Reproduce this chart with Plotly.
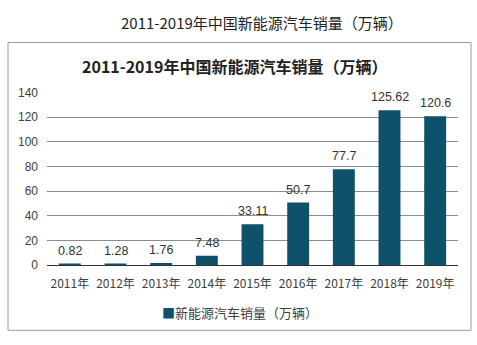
import plotly.graph_objects as go

years = ["2011年", "2012年", "2013年", "2014年", "2015年", "2016年", "2017年", "2018年", "2019年"]
sales = [0.82, 1.28, 1.76, 7.48, 33.11, 50.7, 77.7, 125.62, 120.6]
value_labels = ["0.82", "1.28", "1.76", "7.48", "33.11", "50.7", "77.7", "125.62", "120.6"]
series_name = "新能源汽车销量（万辆）"
outer_title = "2011-2019年中国新能源汽车销量（万辆）"
inner_title = "2011-2019年中国新能源汽车销量（万辆）"

W, H = 477, 345
bar_color = "#0f506a"
font_cjk = "Noto Sans CJK SC, Liberation Sans, sans-serif"
font_num = "Liberation Sans, Arial, sans-serif"

fig = go.Figure()
fig.add_trace(go.Bar(
    x=years, y=sales, name=series_name,
    marker=dict(color=bar_color, line=dict(width=0)),
    showlegend=False,
))

def px_x(p):
    return p / W

def px_y(p):
    return 1 - p / H

annotations = [
    dict(text=outer_title, xref="paper", yref="paper", x=px_x(262), y=px_y(16),
         xanchor="center", yanchor="middle", showarrow=False,
         font=dict(size=15, color="#222222", family=font_cjk)),
    dict(text="<b>" + inner_title + "</b>", xref="paper", yref="paper", x=px_x(234), y=px_y(62),
         xanchor="center", yanchor="middle", showarrow=False,
         font=dict(size=16, color="#222222", family=font_cjk)),
    dict(text="<span style='color:" + bar_color + "'>■</span>" + series_name,
         xref="paper", yref="paper", x=px_x(160), y=px_y(318),
         xanchor="left", yanchor="middle", showarrow=False,
         font=dict(size=13, color="#404040", family=font_cjk)),
]
for cat, val, lab in zip(years, sales, value_labels):
    annotations.append(dict(text=lab, x=cat, y=val, xref="x", yref="y",
                            yanchor="middle", xanchor="center", yshift=13, showarrow=False,
                            font=dict(size=12.5, color="#333333", family=font_num)))

fig.update_layout(
    width=W, height=H,
    margin=dict(l=0, r=0, t=0, b=0),
    paper_bgcolor="white", plot_bgcolor="white",
    bargap=0.52,
    showlegend=False,
    xaxis=dict(domain=[px_x(47), px_x(458)], showgrid=False, showline=True,
               linecolor="#333333", linewidth=1, ticks="", ticklabelstandoff=8,
               tickfont=dict(size=12, color="#404040", family=font_cjk)),
    yaxis=dict(domain=[px_y(269), px_y(89)], range=[0, 140], dtick=20,
               showgrid=True, gridcolor="#8c8c8c", gridwidth=1, zeroline=False,
               showline=False, ticks="", ticklabelstandoff=8,
               tickfont=dict(size=12, color="#404040", family=font_num)),
    shapes=[dict(type="rect", xref="paper", yref="paper",
                 x0=px_x(8), x1=px_x(471), y0=px_y(337), y1=px_y(37),
                 line=dict(color="#9a9a9a", width=1), fillcolor="rgba(0,0,0,0)")],
    annotations=annotations,
)

fig.write_html("out.html")
